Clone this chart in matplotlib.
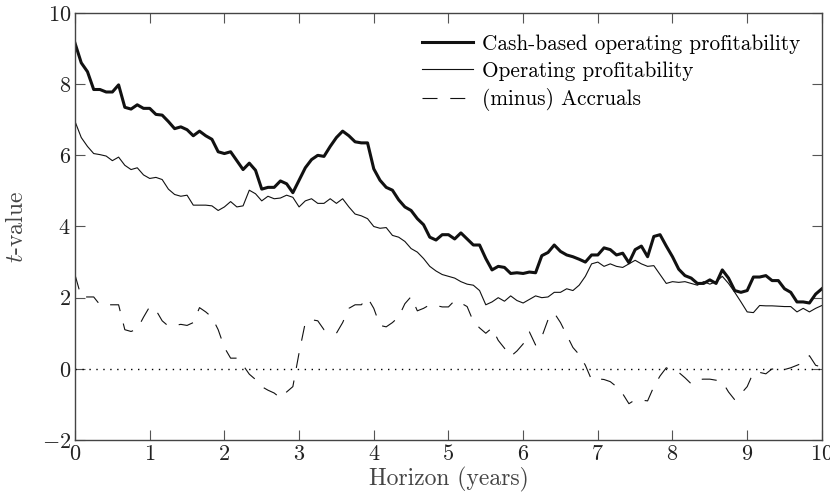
import numpy as np
import matplotlib
matplotlib.use('Agg')
import matplotlib.pyplot as plt

plt.rcParams['font.family'] = 'serif'
plt.rcParams['font.serif'] = ['cmr10']
plt.rcParams['mathtext.fontset'] = 'cm'
plt.rcParams['axes.formatter.use_mathtext'] = True

# monthly horizons, 0..10 years
horizon = np.arange(121) / 12.0

cash_op = [
    9.15, 8.6, 8.35, 7.85, 7.85, 7.78, 7.78, 7.98, 7.35, 7.3, 7.42, 7.32,
    7.32, 7.15, 7.13, 6.95, 6.75, 6.8, 6.72, 6.55, 6.68, 6.55, 6.45, 6.1,
    6.05, 6.1, 5.85, 5.6, 5.78, 5.58, 5.05, 5.1, 5.1, 5.28, 5.2, 4.95,
    5.3, 5.65, 5.88, 6.0, 5.97, 6.25, 6.5, 6.68, 6.55, 6.38, 6.35, 6.35,
    5.62, 5.3, 5.1, 5.02, 4.75, 4.55, 4.45, 4.22, 4.05, 3.7, 3.62, 3.77,
    3.77, 3.65, 3.82, 3.65, 3.48, 3.48, 3.1, 2.78, 2.88, 2.85, 2.68, 2.7,
    2.68, 2.72, 2.7, 3.18, 3.27, 3.48, 3.3, 3.2, 3.15, 3.08, 3.0, 3.2,
    3.2, 3.4, 3.35, 3.2, 3.25, 2.98, 3.35, 3.45, 3.15, 3.72, 3.77, 3.45,
    3.15, 2.8, 2.62, 2.55, 2.4, 2.4, 2.5, 2.4, 2.78, 2.55, 2.2, 2.15,
    2.2, 2.58, 2.58, 2.62, 2.48, 2.48, 2.25, 2.15, 1.88, 1.88, 1.85, 2.1,
    2.25,
]

op_prof = [
    6.95, 6.5, 6.25, 6.05, 6.02, 5.98, 5.85, 5.95, 5.72, 5.6, 5.65, 5.45,
    5.35, 5.38, 5.32, 5.05, 4.9, 4.85, 4.88, 4.6, 4.6, 4.6, 4.58, 4.45,
    4.55, 4.7, 4.55, 4.58, 5.02, 4.92, 4.72, 4.85, 4.78, 4.8, 4.88, 4.82,
    4.55, 4.72, 4.78, 4.65, 4.65, 4.78, 4.65, 4.78, 4.55, 4.35, 4.3, 4.22,
    4.0, 3.95, 3.97, 3.75, 3.7, 3.58, 3.38, 3.28, 3.1, 2.88, 2.75, 2.65,
    2.6, 2.55, 2.45, 2.38, 2.35, 2.2, 1.8, 1.88, 2.0, 1.9, 2.05, 1.92,
    1.85, 1.95, 2.05, 2.0, 2.02, 2.15, 2.15, 2.25, 2.2, 2.35, 2.6, 2.95,
    3.0, 2.88, 2.95, 2.88, 2.85, 2.95, 3.05, 2.95, 2.88, 2.9, 2.65, 2.4,
    2.45, 2.43, 2.45, 2.4, 2.35, 2.45, 2.38, 2.45, 2.6, 2.4, 2.15, 1.88,
    1.6, 1.58, 1.78, 1.77, 1.77, 1.76, 1.75, 1.75, 1.6, 1.7, 1.6, 1.7,
    1.78,
]

accruals = [
    2.64, 2.02, 2.02, 2.02, 1.8, 1.8, 1.8, 1.8, 1.1, 1.05, 1.12, 1.45,
    1.75, 1.65, 1.35, 1.2, 1.22, 1.25, 1.22, 1.3, 1.72, 1.6, 1.45, 1.1,
    0.6, 0.3, 0.3, 0.1, -0.15, -0.3, -0.5, -0.6, -0.68, -0.82, -0.65, -0.5,
    0.45, 1.3, 1.38, 1.35, 1.1, 1.05, 1.0, 1.3, 1.7, 1.8, 1.8, 2.0,
    1.7, 1.22, 1.18, 1.3, 1.46, 1.83, 2.03, 1.63, 1.7, 1.8, 1.78, 1.74,
    1.74, 1.92, 1.85, 1.75, 1.33, 1.15, 1.0, 1.15, 0.8, 0.58, 0.35, 0.5,
    0.7, 1.04, 0.67, 0.9, 1.38, 1.57, 1.3, 0.95, 0.6, 0.4, 0.1, -0.31,
    -0.28, -0.3, -0.36, -0.5, -0.7, -0.98, -0.87, -0.88, -0.9, -0.5, -0.2, 0.03,
    -0.06, -0.1, -0.25, -0.42, -0.3, -0.29, -0.29, -0.32, -0.36, -0.65, -0.87, -0.7,
    -0.5, -0.1, -0.1, -0.14, 0.0, -0.08, -0.02, 0.03, 0.1, 0.17, 0.37, 0.1,
    0.05,
]

fig = plt.figure(figsize=(8.3, 4.94), dpi=100)
ax = fig.add_axes([0.0904, 0.1093, 0.8998, 0.8644])

ax.axhline(0, color='black', lw=1.0, ls=(0, (1, 4)))
ax.plot(horizon, cash_op, color='#111111', lw=2.2,
        label='Cash-based operating profitability')
ax.plot(horizon, op_prof, color='#111111', lw=0.8,
        label='Operating profitability')
ax.plot(horizon, accruals, color='#111111', lw=0.8, dashes=(13.5, 11.5),
        label='(minus) Accruals')

ax.set_xlim(0, 10)
ax.set_ylim(-2, 10)
ax.set_xticks(range(0, 11))
ax.set_yticks(range(-2, 11, 2))
ax.tick_params(direction='in', top=True, right=True, length=7,
               width=0.8, color='#555555', labelsize=16, labelcolor='#222222',
               pad=3)
for s in ax.spines.values():
    s.set_color('#444444')
    s.set_linewidth(1.0)

ax.set_xlabel('Horizon (years)', fontsize=17, color='#444444', labelpad=2)
ax.set_ylabel(r'$t$-value', fontsize=17, color='#444444')
ax.yaxis.set_label_coords(-0.063, 0.5)

ax.legend(loc='upper right', frameon=False, fontsize=15.3, handlelength=2.4,
          handletextpad=0.45, labelspacing=0.35, borderaxespad=0.7,
          borderpad=0.3)

fig.savefig('out.png', dpi=100)
